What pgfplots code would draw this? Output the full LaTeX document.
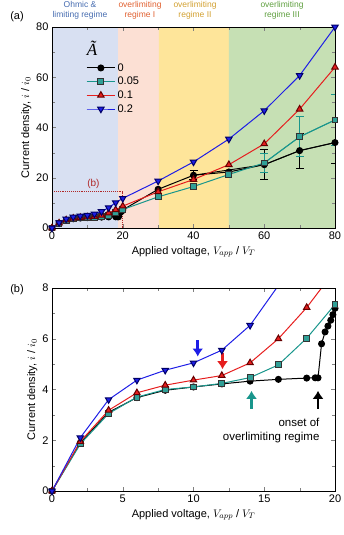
\documentclass[border=0pt]{standalone}
\usepackage{fontspec}
\setmainfont{Liberation Sans}
\newfontfamily\serifit{Liberation Serif}
\usepackage{pgfplots}
\pgfplotsset{compat=1.18}
\usepackage{pgfplotstable}
\usetikzlibrary{arrows.meta}

\definecolor{cteal}{RGB}{25,150,140}
\definecolor{cred}{RGB}{230,30,30}
\definecolor{cblue}{RGB}{30,30,230}
\definecolor{rblue}{RGB}{216,224,242}
\definecolor{rpink}{RGB}{252,224,212}
\definecolor{ryellow}{RGB}{254,229,154}
\definecolor{rgreen}{RGB}{198,224,180}
\definecolor{tblue}{RGB}{70,108,176}
\definecolor{tred}{RGB}{224,96,48}
\definecolor{tyellow}{RGB}{210,160,48}
\definecolor{tgreen}{RGB}{96,160,64}
\definecolor{dred}{RGB}{176,40,40}

\pgfplotstableread{
x y
0 0
2 1.9
4 3.1
6 3.68
8 3.97
10 4.1
12 4.22
14 4.33
16 4.4
18 4.45
18.6 4.46
18.8 4.46
19.05 5.8
19.3 6.27
19.5 6.5
19.7 6.73
19.85 6.95
20 7.2
30 15.4
40 21.0
50 22.3
60 25.2
70 30.8
80 34.0
}\tblack

\pgfplotstableread{
x y
0 0
2 1.85
4 3.05
6 3.7
8 4.0
10 4.1
12 4.24
14 4.47
16 4.97
18 6.02
20 7.35
30 12.4
40 16.5
50 21.3
60 25.9
70 36.3
80 43.0
}\tteal

\pgfplotstableread{
x y
0 0
2 1.95
4 3.18
6 3.87
8 4.17
10 4.37
12 4.55
14 5.05
16 6.0
18 7.23
20 8.7
30 14.4
40 19.3
50 25.2
60 33.5
70 47.3
80 64.0
}\tred

\pgfplotstableread{
x y
0 0
2 2.1
4 3.6
6 4.37
8 4.76
10 5.05
12 5.55
14 6.53
16 8.1
18 10.1
20 11.8
30 18.7
40 26.3
50 35.4
60 46.7
70 60.7
80 80.0
}\tblueser

\pgfplotsset{
  common/.style={
    scale only axis, width=283pt, axis on top, tick align=inside,
    minor tick num=1, clip=true,
    /pgf/number format/assume math mode=true,
    tick label style={font=\fontsize{11}{12}\selectfont},
    label style={font=\fontsize{11}{12}\selectfont},
    xlabel={Applied voltage, $V_{app}$ / $V_T$},
    ylabel={Current density, $i$ / $i_0$},
    ylabel style={yshift=-2pt},
  },
  sblack/.style={black, line width=1pt, mark=*, mark size=3pt, mark options={fill=black, draw=black}},
  steal/.style={cteal, line width=1pt, mark=square*, mark size=2.9pt, mark options={fill=cteal!90!white, draw=black!80}},
  sred/.style={cred, line width=1pt, mark=triangle*, mark size=3.7pt, mark options={fill=cred, draw=black!60!red}},
  sblue/.style={cblue, line width=1pt, mark=triangle*, mark size=3.7pt, mark options={rotate=180, fill=cblue, draw=black!60!blue}},
}

\begin{document}
\begin{tikzpicture}
\path[use as bounding box] (0,0) rectangle (343pt,535pt);

\begin{axis}[common, height=201pt, at={(52pt,307pt)}, anchor=south west,
  xmin=0, xmax=80, ymin=0, ymax=80,
  xtick={0,20,40,60,80}, ytick={0,20,40,60,80},
  legend style={draw=none, fill=none, at={(rel axis cs:0.12,0.83)}, anchor=north west,
    font=\fontsize{11}{12}\selectfont, row sep=0.5pt, inner sep=0pt},
  legend cell align=left,
  legend image code/.code={\draw[mark repeat=2,mark phase=2,#1] plot coordinates {(0cm,0cm) (0.5cm,0cm) (1cm,0cm)};},
]
\addplot[fill=rblue, draw=none, forget plot] coordinates {(0,0)(18.7,0)(18.7,80)(0,80)} \closedcycle;
\addplot[fill=rpink, draw=none, forget plot] coordinates {(18.7,0)(30.2,0)(30.2,80)(18.7,80)} \closedcycle;
\addplot[fill=ryellow, draw=none, forget plot] coordinates {(30.2,0)(50,0)(50,80)(30.2,80)} \closedcycle;
\addplot[fill=rgreen, draw=none, forget plot] coordinates {(50,0)(80,0)(80,80)(50,80)} \closedcycle;

\draw[dred, densely dotted, line width=0.9pt] (axis cs:0,14.4) -- (axis cs:20,14.4) -- (axis cs:20,0);
\node[dred, font=\fontsize{10}{12}\selectfont] at (axis cs:11.7,17.6) {(b)};

\addplot[black, line width=0.9pt, mark=none, forget plot, error bars/.cd, y dir=both, y explicit,
  error mark options={black, line width=0.9pt, mark size=4pt, rotate=90}]
  coordinates {(40,21.0) +- (0,1.8) (60,25.2) +- (0,6) (70,30.8) +- (0,7) (80,34.0) +- (0,8.5)};
\addplot[cteal, line width=0.9pt, mark=none, forget plot, error bars/.cd, y dir=both, y explicit,
  error mark options={cteal, line width=0.9pt, mark size=4pt, rotate=90}]
  coordinates {(60,25.9) +- (0,3.6) (70,36.3) +- (0,8) (80,43.0) +- (0,10)};

\addplot[sblack] table[x=x,y=y] {\tblack};
\addplot[steal] table[x=x,y=y] {\tteal};
\addplot[sred] table[x=x,y=y] {\tred};
\addplot[sblue] table[x=x,y=y] {\tblueser};
\legend{0,0.05,0.1,0.2}

\node[font=\serifit\itshape\fontsize{17}{18}\selectfont, inner sep=0pt] at (rel axis cs:0.142,0.895) {Ã};
\end{axis}

\begin{axis}[common, height=203pt, at={(52pt,44pt)}, anchor=south west,
  xmin=0, xmax=20, ymin=0, ymax=8,
  xtick={0,5,10,15,20}, ytick={0,2,4,6,8},
]
\addplot[sblack] table[x=x,y=y] {\tblack};
\addplot[steal] table[x=x,y=y] {\tteal};
\addplot[sred] table[x=x,y=y] {\tred};
\addplot[sblue] table[x=x,y=y] {\tblueser};

\draw[cblue, line width=2.6pt, -{Latex[length=8pt,width=11pt]}] (axis cs:10.3,5.95) -- (axis cs:10.3,5.3);
\draw[cred, line width=2.6pt, -{Latex[length=8pt,width=11pt]}] (axis cs:12.05,5.45) -- (axis cs:12.05,4.8);
\draw[cteal, line width=2.6pt, -{Latex[length=8pt,width=11pt]}] (axis cs:14.1,3.25) -- (axis cs:14.1,3.95);
\draw[black, line width=2.6pt, -{Latex[length=8pt,width=11pt]}] (axis cs:18.8,3.25) -- (axis cs:18.8,3.95);

\node[anchor=east, align=right, font=\fontsize{11.5}{14}\selectfont] at (axis cs:19.15,2.4) {onset of\\overlimiting regime};
\end{axis}

\node[font=\fontsize{8.5}{10}\selectfont, text=tblue, align=center] at (80pt,525pt) {Ohmic \&\\limiting regime};
\node[font=\fontsize{8.5}{10}\selectfont, text=tred, align=center] at (140pt,525pt) {overlimiting\\regime I};
\node[font=\fontsize{8.5}{10}\selectfont, text=tyellow, align=center] at (195pt,525pt) {overlimiting\\regime II};
\node[font=\fontsize{8.5}{10}\selectfont, text=tgreen, align=center] at (282pt,525pt) {overlimiting\\regime III};

\node[font=\fontsize{11}{12}\selectfont] at (17pt,518pt) {(a)};
\node[font=\fontsize{11}{12}\selectfont] at (17pt,245pt) {(b)};
\end{tikzpicture}
\end{document}
